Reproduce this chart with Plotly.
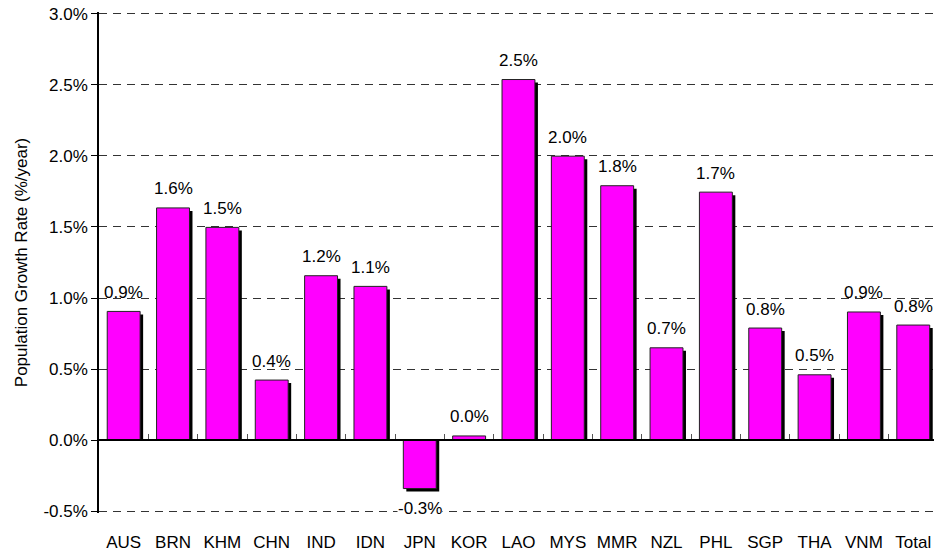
import plotly.graph_objects as go

countries = ["AUS", "BRN", "KHM", "CHN", "IND", "IDN", "JPN", "KOR", "LAO",
             "MYS", "MMR", "NZL", "PHL", "SGP", "THA", "VNM", "Total"]
growth = [0.906, 1.634, 1.497, 0.423, 1.157, 1.082, -0.34, 0.03, 2.537,
          1.998, 1.79, 0.65, 1.745, 0.789, 0.46, 0.902, 0.81]
y_ticks = [-0.5, 0.0, 0.5, 1.0, 1.5, 2.0, 2.5, 3.0]

FONT = "Liberation Sans, Arial, sans-serif"
W, H = 934, 554
ML, MR, MT, MB = 99, 0, 12, 41
EPS = 0.012
Y0, Y1 = -0.5 - EPS, 3.0 + EPS
X0, X1 = -0.5, 16.42
BAR_W = 0.667

plot_w = W - ML - MR
plot_h = H - MT - MB
px_x = plot_w / (X1 - X0)      # px per category
px_y = plot_h / (Y1 - Y0)      # px per data unit
dx = 3 / px_x                  # shadow offset, data units
dy = 3 / px_y

fig = go.Figure()

# shadow
fig.add_trace(go.Bar(
    x=countries, y=[v - dy for v in growth],
    width=BAR_W, offset=-BAR_W / 2 + dx,
    marker=dict(color="black", line=dict(width=0)),
    hoverinfo="skip", showlegend=False,
))
# main bars
fig.add_trace(go.Bar(
    x=countries, y=growth,
    width=BAR_W, offset=-BAR_W / 2,
    marker=dict(color="#FF00FF", line=dict(color="#222222", width=1)),
    showlegend=False,
))
# invisible trace for the zero-line category axis
fig.add_trace(go.Scatter(
    x=countries, y=growth, xaxis="x2", mode="markers",
    marker=dict(opacity=0), hoverinfo="skip", showlegend=False,
))

for c, v in zip(countries, growth):
    fig.add_annotation(
        x=c, y=v, xref="x", yref="y",
        text=f"{v:.1f}%",
        showarrow=False,
        yshift=19 if v >= 0 else -20,
        font=dict(family=FONT, size=17, color="black"),
        bgcolor="white" if v < 0 else None,
        borderpad=0,
    )

fig.update_layout(
    width=W, height=H,
    margin=dict(l=ML, r=MR, t=MT, b=MB),
    paper_bgcolor="white", plot_bgcolor="white",
    barmode="overlay",
    font=dict(family=FONT, size=17, color="black"),
    xaxis=dict(
        type="category", categoryorder="array", categoryarray=countries,
        range=[X0, X1], showline=False, showgrid=False, ticks="",
        tickfont=dict(size=17), ticklabelstandoff=17, automargin=False,
    ),
    xaxis2=dict(
        type="category", categoryorder="array", categoryarray=countries,
        range=[X0, X1], overlaying="x", anchor="free",
        position=(0 - Y0) / (Y1 - Y0), side="bottom",
        showline=True, linecolor="black", linewidth=1.5,
        ticks="inside", ticklen=5, tickcolor="#555555", tickwidth=1,
        tickson="boundaries", showticklabels=False, showgrid=False,
        automargin=False,
    ),
    yaxis=dict(
        range=[Y0, Y1], tickvals=y_ticks,
        ticktext=[f"{t:.1f}%" for t in y_ticks],
        showgrid=True, gridcolor="#333333", gridwidth=1, griddash="8px,6px",
        zeroline=False, showline=True, linecolor="black", linewidth=1.5,
        ticks="outside", ticklen=6, tickcolor="black",
        tickfont=dict(size=17), automargin=False,
        title=dict(text="Population Growth Rate (%/year)",
                   font=dict(size=17), standoff=11),
    ),
)

fig.write_html("out.html",
               config={"displayModeBar": False},
               post_script="document.body.style.margin='0';")
